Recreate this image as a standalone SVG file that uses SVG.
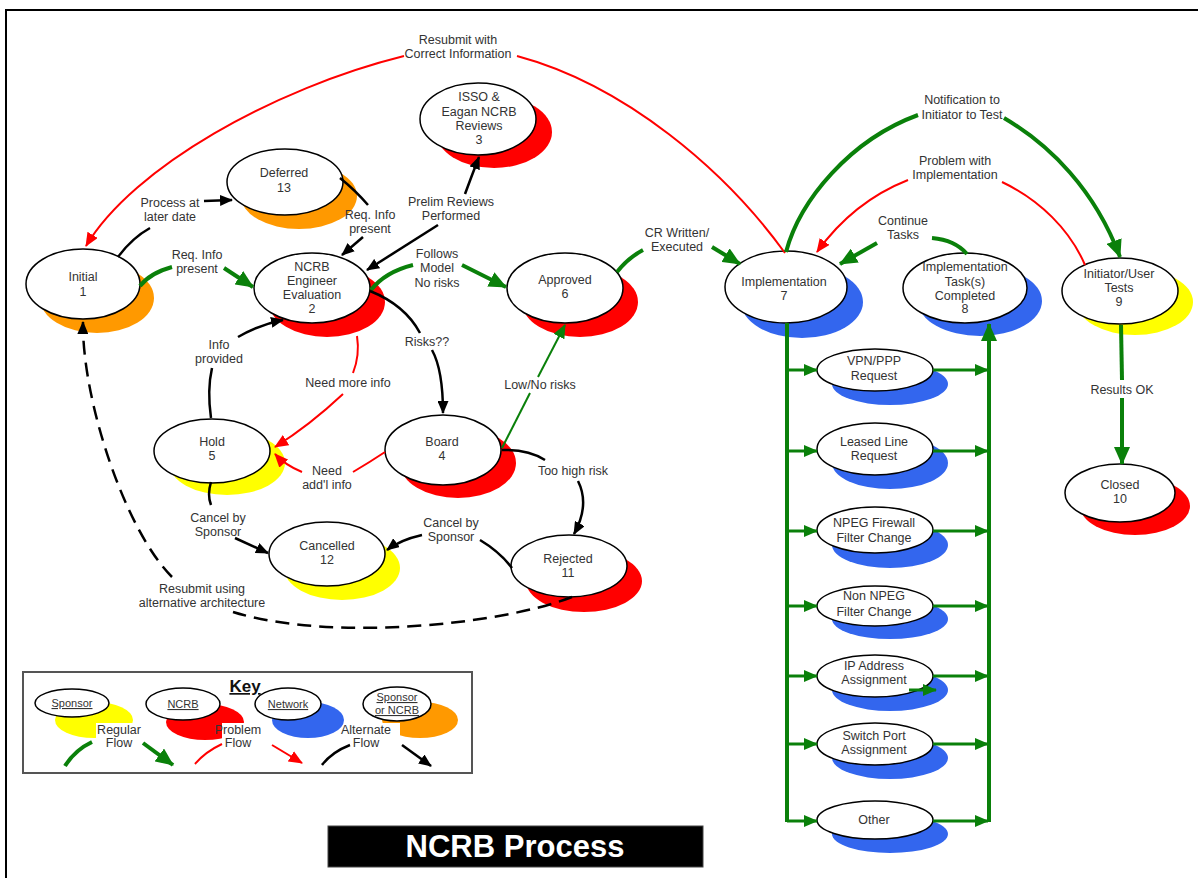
<svg xmlns="http://www.w3.org/2000/svg" width="1198" height="878" viewBox="0 0 1198 878">
<defs>
<marker id="ab" markerWidth="13" markerHeight="11" refX="12" refY="5.5" orient="auto" markerUnits="userSpaceOnUse"><path d="M0,0 L13,5.5 L0,11 z" fill="#000"/></marker>
<marker id="ar" markerWidth="14" markerHeight="12" refX="13" refY="6" orient="auto" markerUnits="userSpaceOnUse"><path d="M0,0 L14,6 L0,12 z" fill="#f00"/></marker>
<marker id="ag" markerWidth="18" markerHeight="16" refX="17" refY="8" orient="auto" markerUnits="userSpaceOnUse"><path d="M0,0 L18,8 L0,16 z" fill="#0a800a"/></marker>
<marker id="ags" markerWidth="14" markerHeight="12" refX="13" refY="6" orient="auto" markerUnits="userSpaceOnUse"><path d="M0,0 L14,6 L0,12 z" fill="#0a800a"/></marker>
</defs>
<style>
text{font-family:"Liberation Sans",Arial,sans-serif;font-size:12.5px;fill:#333;text-anchor:middle}
.n{fill:#fff;stroke:#000;stroke-width:1.5}
.y{fill:#ffff00}.r{fill:#ff0000}.b{fill:#3366ee}.o{fill:#ff9900}
.bk{fill:none;stroke:#000;stroke-width:2.5}
.rd{fill:none;stroke:#f00;stroke-width:2}
.gn{fill:none;stroke:#0a800a;stroke-width:4}
.gm{fill:none;stroke:#0a800a;stroke-width:3}
.gt{fill:none;stroke:#0a800a;stroke-width:2}
.ds{fill:none;stroke:#000;stroke-width:2.5;stroke-dasharray:14 8}
.u{text-decoration:underline;font-size:11px}
</style>
<path d="M6,878 L6,10 L1198,10" fill="none" stroke="#000" stroke-width="2"/>

<g id="node-initial"><ellipse class="o" cx="97" cy="298" rx="57" ry="35"/><ellipse class="n" cx="83" cy="284" rx="57" ry="35"/><text x="83" y="281">Initial</text><text x="83" y="296">1</text></g>
<g id="node-deferred"><ellipse class="o" cx="299" cy="196" rx="58" ry="33"/><ellipse class="n" cx="285" cy="182" rx="58" ry="33"/><text x="284" y="177">Deferred</text><text x="284" y="192">13</text></g>
<g id="node-ncrb"><ellipse class="r" cx="327" cy="302" rx="58" ry="35"/><ellipse class="n" cx="312" cy="288" rx="58" ry="35"/><text x="312" y="271">NCRB</text><text x="312" y="285">Engineer</text><text x="312" y="299">Evaluation</text><text x="312" y="313">2</text></g>
<g id="node-isso"><ellipse class="r" cx="494" cy="132" rx="58" ry="36"/><ellipse class="n" cx="478" cy="119" rx="58" ry="36"/><text x="479" y="101">ISSO &amp;</text><text x="479" y="116">Eagan NCRB</text><text x="479" y="130">Reviews</text><text x="479" y="144">3</text></g>
<g id="node-approved"><ellipse class="r" cx="580" cy="302" rx="58" ry="35"/><ellipse class="n" cx="565" cy="288" rx="58" ry="35"/><text x="565" y="284">Approved</text><text x="565" y="298">6</text></g>
<g id="node-implementation"><ellipse class="b" cx="802" cy="302" rx="61" ry="36"/><ellipse class="n" cx="786" cy="287" rx="61" ry="36"/><text x="784" y="286">Implementation</text><text x="784" y="300">7</text></g>
<g id="node-tasks-completed"><ellipse class="b" cx="980" cy="301" rx="62" ry="35"/><ellipse class="n" cx="965" cy="288" rx="62" ry="35"/><text x="965" y="271">Implementation</text><text x="965" y="286">Task(s)</text><text x="965" y="300">Completed</text><text x="965" y="313">8</text></g>
<g id="node-initiator-tests"><ellipse class="y" cx="1135" cy="302" rx="58" ry="33"/><ellipse class="n" cx="1120" cy="291" rx="58" ry="33"/><text x="1119" y="278">Initiator/User</text><text x="1119" y="292">Tests</text><text x="1119" y="306">9</text></g>
<g id="node-closed"><ellipse class="r" cx="1135" cy="506" rx="55" ry="29"/><ellipse class="n" cx="1120" cy="493" rx="55" ry="29"/><text x="1120" y="489">Closed</text><text x="1120" y="503">10</text></g>
<g id="node-board"><ellipse class="r" cx="458" cy="463" rx="58" ry="35"/><ellipse class="n" cx="443" cy="450" rx="58" ry="35"/><text x="442" y="446">Board</text><text x="442" y="460">4</text></g>
<g id="node-hold"><ellipse class="y" cx="227" cy="463" rx="58" ry="32"/><ellipse class="n" cx="212" cy="451" rx="58" ry="32"/><text x="212" y="446">Hold</text><text x="212" y="460">5</text></g>
<g id="node-cancelled"><ellipse class="y" cx="342" cy="568" rx="58" ry="32"/><ellipse class="n" cx="327" cy="554" rx="58" ry="32"/><text x="327" y="550">Cancelled</text><text x="327" y="564">12</text></g>
<g id="node-rejected"><ellipse class="r" cx="584" cy="581" rx="58" ry="31"/><ellipse class="n" cx="569" cy="566" rx="58" ry="31"/><text x="568" y="563">Rejected</text><text x="568" y="577">11</text></g>
<g id="node-vpn"><ellipse class="b" cx="890" cy="384" rx="58" ry="21"/><ellipse class="n" cx="875" cy="370" rx="58" ry="21"/><text x="874" y="365">VPN/PPP</text><text x="874" y="380">Request</text></g>
<g id="node-leased"><ellipse class="b" cx="890" cy="463" rx="58" ry="26"/><ellipse class="n" cx="875" cy="449" rx="58" ry="26"/><text x="874" y="446">Leased Line</text><text x="874" y="460">Request</text></g>
<g id="node-npeg"><ellipse class="b" cx="890" cy="545" rx="58" ry="23"/><ellipse class="n" cx="875" cy="530" rx="58" ry="23"/><text x="874" y="527">NPEG Firewall</text><text x="874" y="542">Filter Change</text></g>
<g id="node-non-npeg"><ellipse class="b" cx="890" cy="619" rx="58" ry="20"/><ellipse class="n" cx="875" cy="606" rx="58" ry="20"/><text x="874" y="600">Non NPEG</text><text x="874" y="616">Filter Change</text></g>
<g id="node-ip"><ellipse class="b" cx="890" cy="690" rx="58" ry="21"/><ellipse class="n" cx="875" cy="676" rx="58" ry="21"/><text x="874" y="670">IP Address</text><text x="874" y="684">Assignment</text></g>
<g id="node-switch"><ellipse class="b" cx="890" cy="758" rx="58" ry="21"/><ellipse class="n" cx="875" cy="744" rx="58" ry="21"/><text x="874" y="740">Switch Port</text><text x="874" y="754">Assignment</text></g>
<g id="node-other"><ellipse class="b" cx="890" cy="834" rx="58" ry="19"/><ellipse class="n" cx="875" cy="820" rx="58" ry="19"/><text x="874" y="824">Other</text></g>

<g id="connectors">
<path class="rd" d="M785,253 C725,170 625,85 517,56"/>
<path class="rd" d="M404,56 C275,88 133,167 86,246" marker-end="url(#ar)"/>
<text x="458" y="44">Resubmit with</text><text x="458" y="58">Correct Information</text>

<path class="bk" d="M118,257 Q132,238 150,228"/>
<path class="bk" d="M204,201 L232,200" marker-end="url(#ab)"/>
<text x="170" y="207">Process at</text><text x="170" y="221">later date</text>

<path class="bk" d="M340,178 Q355,190 368,205"/>
<path class="bk" d="M363,237 L342,255" marker-end="url(#ab)"/>
<text x="370" y="219">Req. Info</text><text x="370" y="233">present</text>

<path class="gn" d="M140,286 Q150,273 172,267"/>
<path class="gn" d="M224,268 L253,287" marker-end="url(#ag)"/>
<text x="197" y="259">Req. Info</text><text x="197" y="273">present</text>

<path class="bk" d="M438,225 L367,270" marker-end="url(#ab)"/>
<path class="bk" d="M465,194 Q472,175 479,157" marker-end="url(#ab)"/>
<text x="451" y="206">Prelim Reviews</text><text x="451" y="220">Performed</text>

<path class="gn" d="M371,290 Q385,272 413,265"/>
<path class="gn" d="M462,265 L506,287" marker-end="url(#ag)"/>
<text x="437" y="258">Follows</text><text x="437" y="272">Model</text><text x="437" y="287">No risks</text>

<path class="bk" d="M370,291 Q405,305 420,333"/>
<path class="bk" d="M432,350 Q443,370 443,413" marker-end="url(#ab)"/>
<text x="427" y="346">Risks??</text>

<path class="rd" d="M357,336 Q360,355 353,373"/>
<path class="rd" d="M343,394 Q310,425 275,447" marker-end="url(#ar)"/>
<text x="348" y="387">Need more info</text>

<path class="rd" d="M385,452 Q370,462 353,472"/>
<path class="rd" d="M302,472 Q285,465 275,454" marker-end="url(#ar)"/>
<text x="327" y="475">Need</text><text x="327" y="489">add'l info</text>

<path class="bk" d="M211,418 Q207,390 212,368"/>
<path class="bk" d="M238,337 Q258,325 283,320" marker-end="url(#ab)"/>
<text x="219" y="349">Info</text><text x="219" y="363">provided</text>

<path class="bk" d="M211,482 Q207,495 211,505"/>
<path class="bk" d="M235,538 L268,553" marker-end="url(#ab)"/>
<text x="218" y="522">Cancel by</text><text x="218" y="536">Sponsor</text>

<path class="bk" d="M502,450 Q528,449 545,460"/>
<path class="bk" d="M578,481 Q590,505 574,534" marker-end="url(#ab)"/>
<text x="573" y="475">Too high risk</text>

<path class="gt" d="M502,448 L530,393"/>
<path class="gt" d="M538,377 L565,325" marker-end="url(#ags)"/>
<text x="540" y="389">Low/No risks</text>

<path class="bk" d="M512,568 Q500,552 480,540"/>
<path class="bk" d="M422,535 Q400,540 387,550" marker-end="url(#ab)"/>
<text x="451" y="527">Cancel by</text><text x="451" y="541">Sponsor</text>

<path class="ds" d="M572,597 C500,625 330,642 233,612"/>
<path class="ds" d="M172,577 C125,530 82,400 83,322" marker-end="url(#ab)"/>
<text x="202" y="593">Resubmit using</text><text x="202" y="607">alternative architecture</text>

<path class="gn" d="M617,272 Q628,258 643,250"/>
<path class="gn" d="M712,247 L740,264" marker-end="url(#ag)"/>
<text x="677" y="237">CR Written/</text><text x="677" y="251">Executed</text>

<path class="gn" d="M786,252 C800,200 850,140 918,115"/>
<path class="gn" d="M1004,118 C1050,145 1095,190 1120,257" marker-end="url(#ag)"/>
<text x="962" y="104">Notification to</text><text x="962" y="119">Initiator to Test</text>

<path class="rd" d="M1085,265 C1070,230 1040,200 1002,182"/>
<path class="rd" d="M908,180 C870,195 840,220 817,252" marker-end="url(#ar)"/>
<text x="955" y="165">Problem with</text><text x="955" y="179">Implementation</text>

<path class="gn" d="M967,254 Q955,240 932,238"/>
<path class="gn" d="M877,243 L840,264" marker-end="url(#ag)"/>
<text x="903" y="225">Continue</text><text x="903" y="239">Tasks</text>

<path class="gn" d="M1121,325 L1122,380"/>
<path class="gn" d="M1122,398 L1122,464" marker-end="url(#ag)"/>
<text x="1122" y="394">Results OK</text>

<path class="gn" d="M787,323 L787,822"/>
<path class="gm" d="M787,370 L817,370" marker-end="url(#ags)"/>
<path class="gm" d="M787,451 L817,451" marker-end="url(#ags)"/>
<path class="gm" d="M787,531 L817,531" marker-end="url(#ags)"/>
<path class="gm" d="M787,606 L817,606" marker-end="url(#ags)"/>
<path class="gm" d="M787,676 L817,676" marker-end="url(#ags)"/>
<path class="gm" d="M787,744 L817,744" marker-end="url(#ags)"/>
<path class="gm" d="M787,821 L817,821" marker-end="url(#ags)"/>
<path class="gm" d="M933,370 L988,370" marker-end="url(#ags)"/>
<path class="gm" d="M933,451 L988,451" marker-end="url(#ags)"/>
<path class="gm" d="M933,531 L988,531" marker-end="url(#ags)"/>
<path class="gm" d="M933,606 L988,606" marker-end="url(#ags)"/>
<path class="gm" d="M933,676 L988,676" marker-end="url(#ags)"/>
<path class="gm" d="M933,744 L988,744" marker-end="url(#ags)"/>
<path class="gm" d="M933,821 L988,821" marker-end="url(#ags)"/>
<path class="gn" d="M989,822 L989,324" marker-end="url(#ag)"/>
<path class="gm" d="M909,690 L936,690" marker-end="url(#ags)"/>
</g>

<g id="key">
<rect x="23" y="672" width="449" height="101" fill="#fff" stroke="#555" stroke-width="2"/>
<text x="245" y="692" style="font-size:17px;font-weight:bold;fill:#111;text-decoration:underline">Key</text>
<ellipse class="y" cx="94" cy="720" rx="39" ry="18"/>
<ellipse class="r" cx="205" cy="722" rx="39" ry="18"/>
<ellipse class="b" cx="308" cy="720" rx="36" ry="18"/>
<ellipse class="o" cx="420" cy="720" rx="38" ry="18"/>
<ellipse class="n" cx="72" cy="703" rx="37" ry="14"/>
<ellipse class="n" cx="183" cy="704" rx="37" ry="16"/>
<ellipse class="n" cx="288" cy="704" rx="33" ry="16"/>
<ellipse class="n" cx="397" cy="704" rx="34" ry="17"/>
<text class="u" x="72" y="707">Sponsor</text>
<text class="u" x="183" y="708">NCRB</text>
<text class="u" x="288" y="708">Network</text>
<text class="u" x="397" y="701">Sponsor</text>
<text class="u" x="397" y="714">or NCRB</text>
<rect x="96" y="723" width="44" height="27" fill="#fff"/>
<rect x="222" y="723" width="42" height="27" fill="#fff"/>
<rect x="346" y="723" width="54" height="27" fill="#fff"/>
<text x="119" y="734">Regular</text><text x="119" y="747">Flow</text>
<text x="238" y="734">Problem</text><text x="238" y="747">Flow</text>
<text x="366" y="734">Alternate</text><text x="366" y="747">Flow</text>
<path class="gn" d="M65,766 Q75,750 92,742"/>
<path class="gn" d="M143,743 L173,765" marker-end="url(#ag)"/>
<path class="rd" d="M195,764 Q205,752 222,744"/>
<path class="rd" d="M272,745 L302,763" marker-end="url(#ar)"/>
<path class="bk" d="M322,765 Q332,752 350,745"/>
<path class="bk" d="M402,745 L431,766" marker-end="url(#ab)"/>
</g>

<g id="title">
<rect x="328" y="826" width="375" height="41" fill="#000" stroke="#444" stroke-width="1"/>
<text x="515" y="857" style="font-size:31px;font-weight:bold;fill:#fff">NCRB Process</text>
</g>
</svg>
